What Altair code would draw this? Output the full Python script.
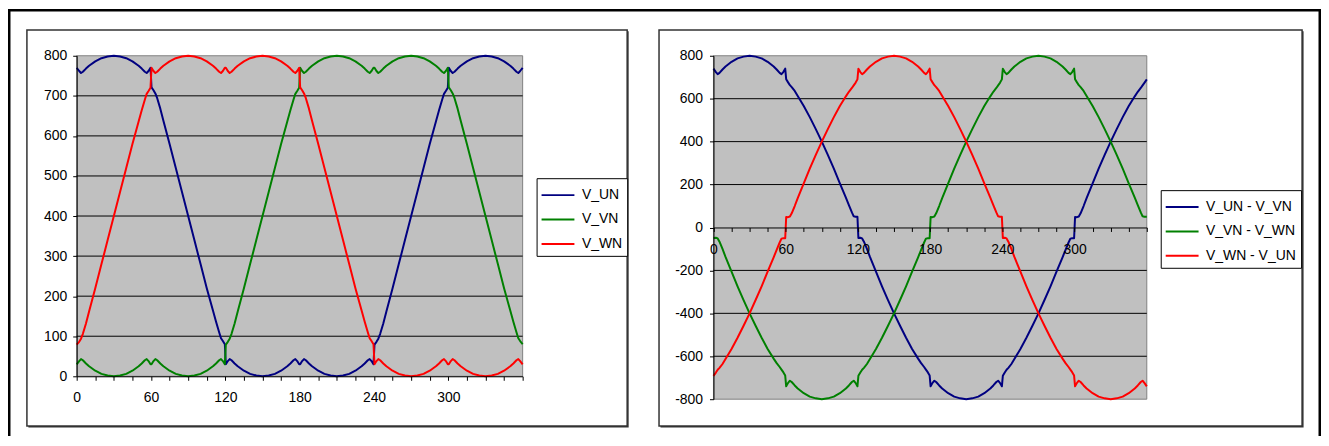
import altair as alt
import pandas as pd

FONT = "Liberation Sans"

# ---- data (angle in degrees, volts) ----
theta = [
    0, 2, 3.5, 5, 7.5, 10, 15, 20, 25, 30, 35, 40, 45, 50, 52.5, 55, 56.5, 58, 59.6,
    60.4, 62, 63.5, 65, 67.5, 70, 75, 80, 85, 90, 95, 100, 105, 110, 112.5, 115, 116.5, 118, 119.6,
    120.4, 122, 123.5, 125, 127.5, 130, 135, 140, 145, 150, 155, 160, 165, 170, 172.5, 175, 176.5, 178, 179.6,
    180.4, 182, 183.5, 185, 187.5, 190, 195, 200, 205, 210, 215, 220, 225, 230, 232.5, 235, 236.5, 238, 239.6,
    240.4, 242, 243.5, 245, 247.5, 250, 255, 260, 265, 270, 275, 280, 285, 290, 292.5, 295, 296.5, 298, 299.6,
    300.4, 302, 303.5, 305, 307.5, 310, 315, 320, 325, 330, 335, 340, 345, 350, 352.5, 355, 356.5, 358, 360,
]

v_un = [
    770, 762, 757, 760, 768, 775, 786, 794, 798, 800, 798, 794, 786, 775, 768, 760, 757, 762, 770,
    721, 714, 706, 694, 668, 638, 580, 520, 460, 400, 340, 280, 220, 164, 136, 110, 95, 88, 80,
    30, 38, 43, 40, 32, 25, 14, 6, 2, 0, 2, 6, 14, 25, 32, 40, 43, 38, 30,
    30, 38, 43, 40, 32, 25, 14, 6, 2, 0, 2, 6, 14, 25, 32, 40, 43, 38, 30,
    79, 86, 94, 106, 132, 162, 220, 280, 340, 400, 460, 520, 580, 636, 664, 690, 705, 712, 720,
    770, 762, 757, 760, 768, 775, 786, 794, 798, 800, 798, 794, 786, 775, 768, 760, 757, 762, 770,
]

v_vn = [
    30, 38, 43, 40, 32, 25, 14, 6, 2, 0, 2, 6, 14, 25, 32, 40, 43, 38, 30,
    30, 38, 43, 40, 32, 25, 14, 6, 2, 0, 2, 6, 14, 25, 32, 40, 43, 38, 30,
    79, 86, 94, 106, 132, 162, 220, 280, 340, 400, 460, 520, 580, 636, 664, 690, 705, 712, 720,
    770, 762, 757, 760, 768, 775, 786, 794, 798, 800, 798, 794, 786, 775, 768, 760, 757, 762, 770,
    770, 762, 757, 760, 768, 775, 786, 794, 798, 800, 798, 794, 786, 775, 768, 760, 757, 762, 770,
    721, 714, 706, 694, 668, 638, 580, 520, 460, 400, 340, 280, 220, 164, 136, 110, 95, 88, 80,
]

v_wn = [
    79, 86, 94, 106, 132, 162, 220, 280, 340, 400, 460, 520, 580, 636, 664, 690, 705, 712, 720,
    770, 762, 757, 760, 768, 775, 786, 794, 798, 800, 798, 794, 786, 775, 768, 760, 757, 762, 770,
    770, 762, 757, 760, 768, 775, 786, 794, 798, 800, 798, 794, 786, 775, 768, 760, 757, 762, 770,
    721, 714, 706, 694, 668, 638, 580, 520, 460, 400, 340, 280, 220, 164, 136, 110, 95, 88, 80,
    30, 38, 43, 40, 32, 25, 14, 6, 2, 0, 2, 6, 14, 25, 32, 40, 43, 38, 30,
    30, 38, 43, 40, 32, 25, 14, 6, 2, 0, 2, 6, 14, 25, 32, 40, 43, 38, 30,
]

left_series = ["V_UN", "V_VN", "V_WN"]
right_series = ["V_UN - V_VN", "V_VN - V_WN", "V_WN - V_UN"]
colors = ["#000080", "#008000", "#FF0000"]

left_y_ticks = [0, 100, 200, 300, 400, 500, 600, 700, 800]
left_grid = [100, 200, 300, 400, 500, 600, 700]
right_y_ticks = [-800, -600, -400, -200, 0, 200, 400, 600, 800]
right_grid = [-600, -400, -200, 200, 400, 600]
x_ticks = [0, 15, 30, 45, 60, 75, 90, 105, 120, 135, 150, 165, 180, 195, 210,
           225, 240, 255, 270, 285, 300, 315, 330, 345, 360]

# ---- tables ----
rows_l = []
for name, vals in zip(left_series, [v_un, v_vn, v_wn]):
    for t, v in zip(theta, vals):
        rows_l.append({"theta": t, "value": v, "series": name})
df_l = pd.DataFrame(rows_l)

uv = [a - b for a, b in zip(v_un, v_vn)]
vw = [a - b for a, b in zip(v_vn, v_wn)]
wu = [a - b for a, b in zip(v_wn, v_un)]
rows_r = []
for name, vals in zip(right_series, [uv, vw, wu]):
    for t, v in zip(theta, vals):
        rows_r.append({"theta": t, "value": v, "series": name})
df_r = pd.DataFrame(rows_r)

rect_l = pd.DataFrame({"x0": [0], "x1": [360], "y0": [0], "y1": [800]})
rect_r = pd.DataFrame({"x0": [0], "x1": [360], "y0": [-800], "y1": [800]})
grid_l = pd.DataFrame({"v": left_grid, "x0": 0, "x1": 360})
grid_r = pd.DataFrame({"v": right_grid, "x0": 0, "x1": 360})
dummy = pd.DataFrame({"k": [0]})

# ---- geometry (pixels inside the shared view) ----
W, H = 1075, 345
LW, LH = 448, 322
RX0 = 639.7

xL = alt.Scale(domain=[0, 360], range=[0, LW], nice=False, zero=False)
yL = alt.Scale(domain=[0, 800], range=[LH, 0], nice=False, zero=False)
xR = alt.Scale(domain=[0, 360], range=[RX0, W], nice=False, zero=False)
yR = alt.Scale(domain=[-800, 800], range=[H, 0], nice=False, zero=False)

common = dict(grid=False, domainColor="black", domainWidth=1, tickColor="black",
              tickWidth=1, tickSize=4, labelFont=FONT, labelFontSize=14,
              labelColor="black", labelFlush=False, labelOverlap=False,
              title=None, zindex=1)
x_label = "datum.value % 60 == 0 && datum.value < 360 ? '' + datum.value : ''"

axLy = alt.Axis(orient="left", values=left_y_ticks, labelPadding=6,
                labelExpr="'' + datum.value", **common)
axLx = alt.Axis(orient="bottom", offset=LH - H, values=x_ticks, labelPadding=10,
                labelExpr=x_label, **common)
axRy = alt.Axis(orient="left", offset=-RX0, values=right_y_ticks, labelPadding=7,
                labelExpr="'' + datum.value", **common)
axRx = alt.Axis(orient="bottom", offset=H / 2 - H, values=x_ticks, labelPadding=11,
                labelExpr=x_label, **common)

leg_common = dict(orient="none", title=None, symbolType="M-1.5,0H1.5", symbolSize=484,
                  symbolStrokeWidth=2, symbolOffset=4.5, labelFont=FONT, labelFontSize=14,
                  labelColor="black", padding=5, strokeColor="black",
                  fillColor="white", rowPadding=5.5, labelOffset=12,
                  direction="vertical")
legL = alt.Legend(legendX=462, legendY=123, **leg_common)
legR = alt.Legend(legendX=1089, legendY=135, **leg_common)

# ---- decorative frames ----
def bar(x0, x1, y0, y1, color="black"):
    return alt.Chart(dummy).mark_rect(fill=color, strokeWidth=0).encode(
        x=alt.value(x0), x2=alt.value(x1), y=alt.value(y0), y2=alt.value(y1))

def box(x0, x1, y0, y1):
    sh = bar(x0 + 1.5, x1 + 1.5, y0 + 1.5, y1 + 1.5, "#333333")
    bx = alt.Chart(dummy).mark_rect(fill="white", stroke="#333333", strokeWidth=1.5).encode(
        x=alt.value(x0), x2=alt.value(x1), y=alt.value(y0), y2=alt.value(y1))
    return [sh, bx]

frames = [
    bar(-69, -66.5, -47, 382),
    bar(-69, 1250, -47, -44.5),
    bar(1247.5, 1250, -47, 382),
] + box(-50, 553, -26, 372) + box(585, 1231, -26, 372)

# ---- left panel ----
rectL = alt.Chart(rect_l).mark_rect(fill="#C0C0C0", stroke="#808080", strokeWidth=1).encode(
    x=alt.X("x0:Q", scale=xL, axis=axLx), x2="x1:Q",
    y=alt.Y("y0:Q", scale=yL, axis=axLy), y2="y1:Q")
gridL = alt.Chart(grid_l).mark_rule(color="black", strokeWidth=1).encode(
    x=alt.X("x0:Q", scale=xL, axis=axLx), x2="x1:Q",
    y=alt.Y("v:Q", scale=yL, axis=axLy))
linesL = alt.Chart(df_l).mark_line(strokeWidth=2, strokeJoin="round").encode(
    x=alt.X("theta:Q", scale=xL, axis=axLx),
    y=alt.Y("value:Q", scale=yL, axis=axLy),
    color=alt.Color("series:N", scale=alt.Scale(domain=left_series, range=colors), legend=legL))
left = alt.layer(rectL, gridL, linesL)

# ---- right panel ----
rectR = alt.Chart(rect_r).mark_rect(fill="#C0C0C0", stroke="#808080", strokeWidth=1).encode(
    x=alt.X("x0:Q", scale=xR, axis=axRx), x2="x1:Q",
    y=alt.Y("y0:Q", scale=yR, axis=axRy), y2="y1:Q")
gridR = alt.Chart(grid_r).mark_rule(color="black", strokeWidth=1).encode(
    x=alt.X("x0:Q", scale=xR, axis=axRx), x2="x1:Q",
    y=alt.Y("v:Q", scale=yR, axis=axRy))
linesR = alt.Chart(df_r).mark_line(strokeWidth=2, strokeJoin="round").encode(
    x=alt.X("theta:Q", scale=xR, axis=axRx),
    y=alt.Y("value:Q", scale=yR, axis=axRy),
    color=alt.Color("series:N", scale=alt.Scale(domain=right_series, range=colors), legend=legR))
right = alt.layer(rectR, gridR, linesR)

chart = alt.layer(*frames, left, right).resolve_scale(
    x="independent", y="independent", color="independent"
).properties(width=W, height=H, padding=0, background="white").configure_view(stroke=None)

chart.save("out.html", embed_options={"renderer": "svg", "actions": False})
